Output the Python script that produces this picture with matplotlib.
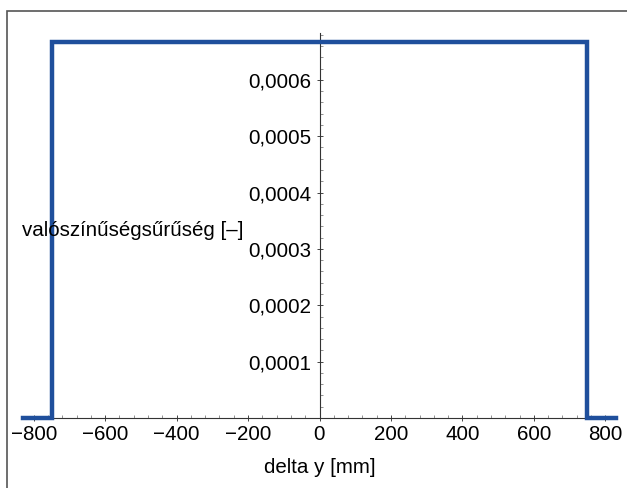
import matplotlib
matplotlib.use("Agg")
import matplotlib.pyplot as plt
from matplotlib.ticker import FixedLocator, MultipleLocator, FuncFormatter
from matplotlib.patches import Rectangle

# ── Data ─────────────────────────────────────────────────────────────────────
half_width = 750.0
density = 1.0 / 1500.0
step_x = [-830, -half_width, -half_width, half_width, half_width, 830]
step_y = [0, 0, density, density, 0, 0]

x_ticks = [-800, -600, -400, -200, 0, 200, 400, 600, 800]
y_ticks = [0.0001, 0.0002, 0.0003, 0.0004, 0.0005, 0.0006]

# ── Figure ───────────────────────────────────────────────────────────────────
plt.rcParams["font.family"] = ["Liberation Sans", "DejaVu Sans"]

W, H = 627, 488
FS = 14.8
fig = plt.figure(figsize=(W / 100, H / 100), dpi=100)
ax = fig.add_axes([23 / W, 70 / H, (616 - 23) / W, (455 - 70) / H])
ax.set_xlim(-830, 830)
ax.set_ylim(0, 0.000683)

ax.plot(step_x, step_y, color="#1f4f9c", lw=3.2, solid_joinstyle="miter",
        zorder=3, clip_on=False)

for s in ("top", "right"):
    ax.spines[s].set_visible(False)
ax.spines["left"].set_position(("data", 0))
ax.spines["bottom"].set_position(("data", 0))
for s in ("left", "bottom"):
    ax.spines[s].set_linewidth(0.8)
    ax.spines[s].set_color("#333333")

ax.xaxis.set_major_locator(FixedLocator(x_ticks))
ax.xaxis.set_minor_locator(MultipleLocator(40))
ax.yaxis.set_major_locator(FixedLocator(y_ticks))
ax.yaxis.set_minor_locator(MultipleLocator(0.00002))
ax.xaxis.set_major_formatter(FuncFormatter(lambda v, p: f"{v:.0f}".replace("-", "\u2212")))
ax.yaxis.set_major_formatter(FuncFormatter(lambda v, p: f"{v:.4f}".replace(".", ",")))

ax.tick_params(axis="both", which="major", direction="inout", length=4,
               width=0.7, labelsize=FS, color="#444444")
ax.tick_params(axis="x", which="major", pad=3)
ax.tick_params(axis="y", which="major", pad=4)
ax.tick_params(axis="both", which="minor", direction="in", length=2.5,
               width=0.5, color="#666666")

ax.set_xlabel("delta y [mm]", fontsize=FS, labelpad=10)
fig.text(243 / W, 1 - 230 / H, "valószínűségsűrűség [–]", fontsize=FS,
         ha="right", va="center")

fig.add_artist(Rectangle((7 / W, -0.05), 1.1, 1 - 11 / H + 0.05,
                         transform=fig.transFigure, fill=False,
                         edgecolor="#555555", lw=1.2))

fig.savefig("out.png", dpi=100)
